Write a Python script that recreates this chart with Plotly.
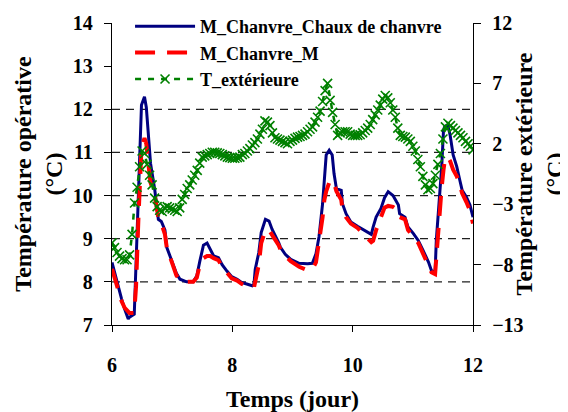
import plotly.graph_objects as go

# operative temperature series (left axis), time in days
t_int = [6.00, 6.07, 6.16, 6.21, 6.27, 6.29, 6.37, 6.40, 6.44, 6.47, 6.49, 6.54, 6.57, 6.60,
         6.64, 6.71, 6.77, 6.82, 6.88, 6.91, 6.99, 7.07, 7.13, 7.24, 7.35, 7.41, 7.46, 7.52,
         7.58, 7.63, 7.69, 7.77, 7.83, 7.91, 7.99, 8.08, 8.16, 8.24, 8.33, 8.36, 8.38, 8.44,
         8.48, 8.55, 8.61, 8.66, 8.72, 8.77, 8.80, 8.88, 8.97, 9.05, 9.11, 9.25, 9.33, 9.39,
         9.44, 9.50, 9.53, 9.56, 9.61, 9.66, 9.69, 9.73, 9.81, 9.83, 9.89, 9.97, 10.08, 10.19,
         10.31, 10.34, 10.39, 10.47, 10.53, 10.59, 10.67, 10.76, 10.78, 10.87, 10.92, 11.01,
         11.09, 11.17, 11.26, 11.31, 11.37, 11.39, 11.43, 11.48, 11.51, 11.53, 11.58, 11.62,
         11.67, 11.73, 11.78, 11.82, 11.89, 11.95, 12.00]

m_chaux = [8.45, 8.06, 7.60, 7.37, 7.14, 7.18, 7.25, 8.45, 9.98, 11.50, 12.10, 12.29, 12.05, 11.50,
           10.75, 10.14, 9.45, 9.40, 9.20, 8.80, 8.48, 8.20, 8.06, 8.00, 8.00, 8.14, 8.48, 8.85,
           8.90, 8.75, 8.60, 8.56, 8.40, 8.25, 8.12, 8.06, 7.98, 7.95, 7.91, 7.95, 8.29, 8.68,
           9.14, 9.45, 9.41, 9.22, 9.06, 8.91, 8.80, 8.64, 8.52, 8.47, 8.43, 8.42, 8.43, 8.65,
           9.04, 9.81, 10.43, 10.94, 11.05, 10.94, 10.51, 10.16, 10.12, 9.81, 9.58, 9.39, 9.29, 9.19,
           9.10, 9.27, 9.50, 9.70, 9.95, 10.09, 10.00, 9.78, 9.58, 9.50, 9.27, 9.12,
           8.96, 8.73, 8.46, 8.26, 8.22, 8.96, 9.74, 10.67, 11.52, 11.60, 11.64, 11.40,
           10.94, 10.67, 10.36, 10.12, 9.97, 9.78, 9.50]

m_chanvre = [8.30, 7.95, 7.55, 7.40, 7.28, 7.28, 7.28, 7.90, 9.50, 10.60, 11.10, 11.33, 11.20, 10.80,
             10.30, 10.00, 9.50, 9.35, 9.10, 8.80, 8.45, 8.15, 8.03, 8.00, 8.00, 8.10, 8.40, 8.55,
             8.60, 8.60, 8.55, 8.50, 8.35, 8.20, 8.08, 8.03, 7.95, 7.90, 7.87, 7.87, 8.00, 8.40,
             8.90, 9.20, 9.20, 9.10, 8.95, 8.85, 8.75, 8.60, 8.48, 8.40, 8.35, 8.27, 8.30, 8.45,
             8.90, 9.50, 9.90, 10.10, 10.30, 10.36, 10.30, 10.10, 9.90, 9.70, 9.50, 9.35, 9.25, 9.10,
             8.92, 8.95, 9.20, 9.50, 9.72, 9.76, 9.74, 9.65, 9.50, 9.45, 9.20, 9.05,
             8.90, 8.65, 8.40, 8.22, 8.18, 8.60, 9.50, 10.20, 10.60, 10.80, 10.90, 10.80,
             10.60, 10.45, 10.25, 10.05, 9.85, 9.65, 9.35]

# outdoor temperature (right axis), hourly
t_ext_time = [6 + h / 24 for h in range(145)]
t_ext = [-6.2, -6.6, -7.0, -7.3, -7.5, -7.6, -7.6, -7.2, -5.5, -2.9, -1.6, 0.1, 1.4, 1.2, 0.3, -0.6,
         -1.4, -2.5, -3.2, -3.5, -3.6, -3.3, -3.2, -3.3, -3.4, -3.5, -3.6, -3.3, -2.6, -2.2, -1.7,
         -1.4, -1.0, -0.6, -0.2, 0.4, 0.9, 1.0, 1.1, 1.2, 1.3, 1.3, 1.25, 1.2, 1.1, 1.0, 0.9,
         0.85, 0.8, 0.8, 0.85, 0.9, 1.1, 1.2, 1.4, 1.6, 1.9, 2.1, 2.4, 2.8, 3.2, 3.9, 3.8,
         3.5, 2.9, 2.5, 2.4, 2.3, 2.2, 2.1, 2.0, 2.2, 2.3, 2.45, 2.55, 2.6, 2.7, 2.8, 3.0,
         3.2, 3.4, 3.8, 4.2, 4.7, 5.5, 6.4, 7.0, 5.6, 4.6, 3.6, 2.7, 2.9, 3.0, 3.0, 3.0,
         2.8, 2.7, 2.7, 2.7, 2.75, 2.9, 3.1, 3.3, 3.6, 4.0, 4.4, 4.8, 5.2, 5.7, 6.0, 5.8,
         5.4, 4.8, 4.2, 3.3, 2.7, 2.6, 2.55, 2.4, 2.2, 1.8, 1.4, 0.7, 0.1, -0.7, -1.4, -1.8,
         -1.7, -1.3, -0.6, 0.3, 1.2, 2.4, 3.4, 3.7, 3.5, 3.3, 3.1, 2.9, 2.7, 2.5, 2.2, 2.0,
         1.8, 1.5]

grid_levels = [8, 9, 10, 11, 12]
right_ticks = [-13, -8, -3, 2, 7, 12]

font = dict(family="Liberation Serif", size=20, color="black", weight="bold")

fig = go.Figure()

fig.add_trace(go.Scatter(x=t_int, y=m_chaux, mode="lines", name="M_Chanvre_Chaux de chanvre",
                         line=dict(color="#000080", width=3)))
fig.add_trace(go.Scatter(x=t_int, y=m_chanvre, mode="lines", name="M_Chanvre_M",
                         line=dict(color="#FF0000", width=4, dash="20px,12px")))
fig.add_trace(go.Scatter(x=t_ext_time, y=t_ext, mode="lines+markers", name="T_extérieure",
                         yaxis="y2",
                         line=dict(color="#008000", width=2.5, dash="6px,7px"),
                         marker=dict(symbol="x-thin", size=9,
                                     line=dict(width=1.6, color="#008000"))))

# dashed horizontal grid (only 8..12 on the left scale)
for g in grid_levels:
    fig.add_shape(type="line", xref="paper", x0=0, x1=1, yref="y", y0=g, y1=g,
                  line=dict(color="#202020", width=1.3, dash="8px,6px"), layer="below")

# page body offsets the figure by 8px; the figure runs to the window edge
# top margin is zero and the axes domain leaves room so the legend stays inside the paper
y_top = 1 - 15 / 317

fig.update_layout(
    width=560, height=404,
    margin=dict(l=104, r=95, t=0, b=87),
    paper_bgcolor="white", plot_bgcolor="white",
    font=font,
    showlegend=True,
    legend=dict(x=0.05, y=1.0, xanchor="left", yanchor="top",
                bgcolor="rgba(0,0,0,0)", itemwidth=60,
                font=dict(family="Liberation Serif", size=18, color="black", weight="bold"),
                tracegroupgap=0),
    xaxis=dict(range=[6, 12], dtick=2, tick0=6, showgrid=False, zeroline=False,
               showline=True, linecolor="black", linewidth=1.3, automargin=False,
               ticks="outside", ticklen=6, tickcolor="black", ticklabelstandoff=16,
               title=dict(text="Temps (jour)", standoff=31)),
    yaxis=dict(range=[7, 14], dtick=1, domain=[0, y_top], showgrid=False, zeroline=False,
               showline=True, linecolor="black", linewidth=1.3, automargin=False,
               ticks="outside", ticklen=7, tickcolor="black", ticklabelstandoff=7,
               title=dict(text="Température opérative<br>(°C)", standoff=3)),
    yaxis2=dict(range=[-13, 12], tickvals=right_ticks, overlaying="y", side="right",
                showgrid=False, zeroline=False, automargin=False,
                showline=True, linecolor="black", linewidth=1.3,
                ticks="outside", ticklen=7, tickcolor="black", ticklabelstandoff=7,
                title=dict(text="Température extérieure<br>(°C)", standoff=12)),
)

fig.write_html("out.html")
